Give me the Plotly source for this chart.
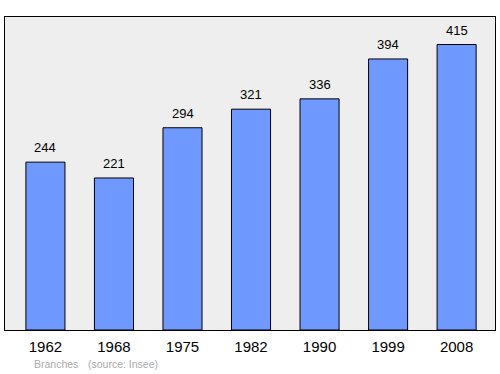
import plotly.graph_objects as go

years = ["1962", "1968", "1975", "1982", "1990", "1999", "2008"]
population = [244, 221, 294, 321, 336, 394, 415]

fig = go.Figure()
fig.add_trace(go.Bar(
    x=years, y=population,
    marker=dict(color="#7099ff", line=dict(color="#000000", width=1)),
    width=0.57,
    hoverinfo="x+y",
))

annotations = [
    dict(x=i, y=v, xref="x", yref="y", text=str(v), showarrow=False,
         xanchor="center", yanchor="bottom", yshift=5,
         font=dict(size=13, color="#000000"))
    for i, v in enumerate(population)
]
annotations += [
    dict(text="Branches", xref="paper", yref="paper", x=(32 - 5) / 490, y=0,
         xanchor="left", yanchor="middle", yshift=-34, showarrow=False,
         font=dict(size=10.5, color="#aaaaaa")),
    dict(text="(source: Insee)", xref="paper", yref="paper", x=(86 - 5) / 490, y=0,
         xanchor="left", yanchor="middle", yshift=-34, showarrow=False,
         font=dict(size=10.5, color="#aaaaaa")),
]

fig.update_layout(
    width=500, height=374,
    margin=dict(l=5, r=5, t=17, b=44),
    paper_bgcolor="#ffffff",
    plot_bgcolor="#eeeeee",
    showlegend=False,
    font=dict(family="Liberation Sans, Arial, sans-serif"),
    xaxis=dict(type="category", range=[-0.59, 6.56], showgrid=False, zeroline=False,
               showline=True, linecolor="#000000", linewidth=1, mirror=True,
               ticks="", ticklabelstandoff=3, tickfont=dict(size=15, color="#000000")),
    yaxis=dict(range=[0, 455], showgrid=False, zeroline=False,
               showline=True, linecolor="#000000", linewidth=1, mirror=True,
               showticklabels=False, ticks=""),
    annotations=annotations,
)

fig.write_html("out.html")
